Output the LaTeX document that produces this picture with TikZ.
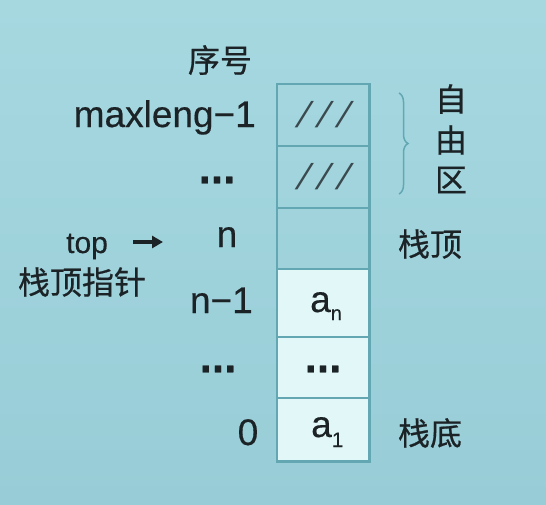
\documentclass[tikz,border=0pt]{standalone}
\usepackage{fontspec}
\setmainfont[FakeBold=0.4]{Liberation Sans}
\newfontfamily\cjk[FakeBold=0.6]{Noto Sans CJK SC}
\newfontfamily\slfont[FakeSlant=0.35]{Liberation Sans}
\usetikzlibrary{arrows.meta,decorations.pathreplacing}
\definecolor{bgtop}{HTML}{A6D8E0}
\definecolor{bgbot}{HTML}{98CDD7}
\definecolor{cellc}{HTML}{62A7B2}
\definecolor{cellf}{HTML}{E2F8F8}
\definecolor{txt}{HTML}{1C2326}
\definecolor{hatch}{HTML}{3A4A4F}
\begin{document}
\begin{tikzpicture}[x=1pt,y=-1pt,
  lat/.style={font=\fontsize{37}{40}\selectfont, text=txt, inner sep=0pt},
  dotsty/.style={font=\bfseries\fontsize{44}{46}\selectfont, text=txt, inner sep=0pt},
  cjkt/.style={font=\cjk\fontsize{32}{36}\selectfont, text=txt, inner sep=0pt},
  slashes/.style={font=\slfont\fontsize{36}{40}\selectfont, text=hatch, inner sep=0pt},
  cell/.style={draw=cellc, line width=1.5pt, minimum width=92pt, inner sep=0pt},
  full/.style={cell, fill=cellf},
  arr/.style={-{Triangle[length=11pt,width=12pt]}, line width=3.2pt, draw=txt},
  brc/.style={draw=cellc, line width=1.5pt, decorate, decoration={brace, amplitude=9pt}}]
\shade[top color=bgtop, bottom color=bgbot] (0,0) rectangle (546,504);
\useasboundingbox (0,0) rectangle (546,504);
% cells
\node[cell, minimum height=62pt] (r5) at (323,115) {};
\node[cell, minimum height=62pt] (r4) at (323,177) {};
\node[cell, minimum height=61pt] (r3) at (323,238.5) {};
\node[full, minimum height=68pt] (r2) at (323,303) {};
\node[full, minimum height=61pt] (r1) at (323,367.5) {};
\node[full, minimum height=63pt] (r0) at (323,429.5) {};
\draw[cellc, line width=1.5pt] (r5.north west) rectangle (r0.south east);
% cell contents
\node[slashes] (h5) at (320,115) {/ / /};
\node[slashes] (h4) at (320,177) {/ / /};
\node[lat, anchor=base west] (an) at (310,312) {a\raisebox{-8pt}{\fontsize{20}{22}\selectfont n}};
\node[dotsty] (d1) at (323,369) {...};
\node[lat, anchor=base west] (a1) at (311,437) {a\raisebox{-10pt}{\fontsize{21}{24}\selectfont 1}};
% index labels
\node[cjkt] (xh) at (220,60) {序号};
\node[lat, anchor=base east] (ml) at (256,127) {maxleng−1};
\node[dotsty] (dl1) at (217,180) {...};
\node[lat, anchor=base] (nl) at (227,247) {n};
\node[lat, anchor=base east] (n1) at (253,313) {n−1};
\node[dotsty] (dl2) at (218,369) {...};
\node[lat, anchor=base] (zl) at (248,445) {0};
% top pointer
\node[lat, font=\fontsize{30}{32}\selectfont, anchor=base west] (top) at (66,253) {top};
\coordinate (tailA) at (133,242);
\coordinate (tipA) at (163,242);
\draw[arr] (tailA) -- (tipA);
\node[cjkt] (zdzz) at (82,282) {栈顶指针};
% right side
\coordinate (bt) at (399,93);
\coordinate (bb) at (399,194);
\draw[brc] (bt) -- (bb);
\node[cjkt] (z1) at (451,99) {自};
\node[cjkt] (z2) at (451,140) {由};
\node[cjkt] (z3) at (451,180) {区};
\node[cjkt] (zd) at (430,244) {栈顶};
\node[cjkt] (zb) at (430,433) {栈底};
\end{tikzpicture}
\end{document}
